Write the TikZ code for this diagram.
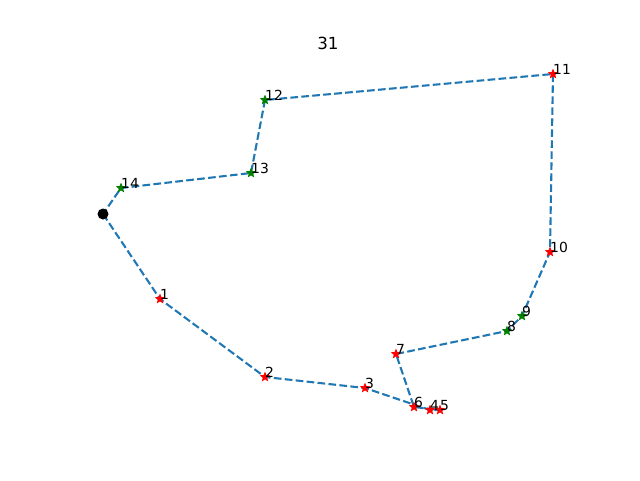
\documentclass[tikz,border=0pt]{standalone}
\usepackage{fontspec}
\setmainfont{DejaVu Sans}
\usetikzlibrary{shapes.geometric,backgrounds}
\definecolor{tabblue}{HTML}{1F77B4}
\definecolor{mgreen}{HTML}{008000}
\begin{document}
\begin{tikzpicture}[x=1pt,y=-1pt,
  route/.style={tabblue,line width=2.08pt,dash pattern=on 7.7pt off 3.3pt},
  rstar/.style={star,star points=5,star point ratio=2.3,draw=none,fill=red,inner sep=0pt,minimum size=11pt},
  gstar/.style={star,star points=5,star point ratio=2.3,draw=none,fill=mgreen,inner sep=0pt,minimum size=11pt},
  lbl/.style={anchor=base west,inner sep=0pt,font=\fontsize{13.9}{16}\selectfont},
  depotstyle/.style={circle,fill=black,inner sep=0pt,minimum size=11pt}]
\useasboundingbox (0,0) rectangle (640,480);
\node[anchor=base,inner sep=0pt,font=\fontsize{16.7}{20}\selectfont] (title) at (328,49) {31};
\node[depotstyle] (d) at (103,214) {};
\node[rstar] (n1) at (160,299) {};
\node[rstar] (n2) at (265,377) {};
\node[rstar] (n3) at (365,388) {};
\node[rstar] (n4) at (430,410) {};
\node[rstar] (n5) at (440,410) {};
\node[rstar] (n6) at (414,407) {};
\node[rstar] (n7) at (396,354) {};
\node[gstar] (n8) at (507,331) {};
\node[gstar] (n9) at (522,316) {};
\node[rstar] (n10) at (550,252) {};
\node[rstar] (n11) at (553,74) {};
\node[gstar] (n12) at (265,100) {};
\node[gstar] (n13) at (251,173) {};
\node[gstar] (n14) at (121,188) {};
\begin{scope}[on background layer]
\draw[route] (d.center) -- (n1.center) -- (n2.center) -- (n3.center) -- (n4.center) -- (n5.center) -- (n6.center) -- (n7.center) -- (n8.center) -- (n9.center) -- (n10.center) -- (n11.center) -- (n12.center) -- (n13.center) -- (n14.center) -- (d.center);
\end{scope}
\node[lbl] (l1) at (n1.center) {1};
\node[lbl] (l2) at (n2.center) {2};
\node[lbl] (l3) at (n3.center) {3};
\node[lbl] (l4) at (n4.center) {4};
\node[lbl] (l5) at (n5.center) {5};
\node[lbl] (l6) at (n6.center) {6};
\node[lbl] (l7) at (n7.center) {7};
\node[lbl] (l8) at (n8.center) {8};
\node[lbl] (l9) at (n9.center) {9};
\node[lbl] (l10) at (n10.center) {10};
\node[lbl] (l11) at (n11.center) {11};
\node[lbl] (l12) at (n12.center) {12};
\node[lbl] (l13) at (n13.center) {13};
\node[lbl] (l14) at (n14.center) {14};
\end{tikzpicture}
\end{document}
